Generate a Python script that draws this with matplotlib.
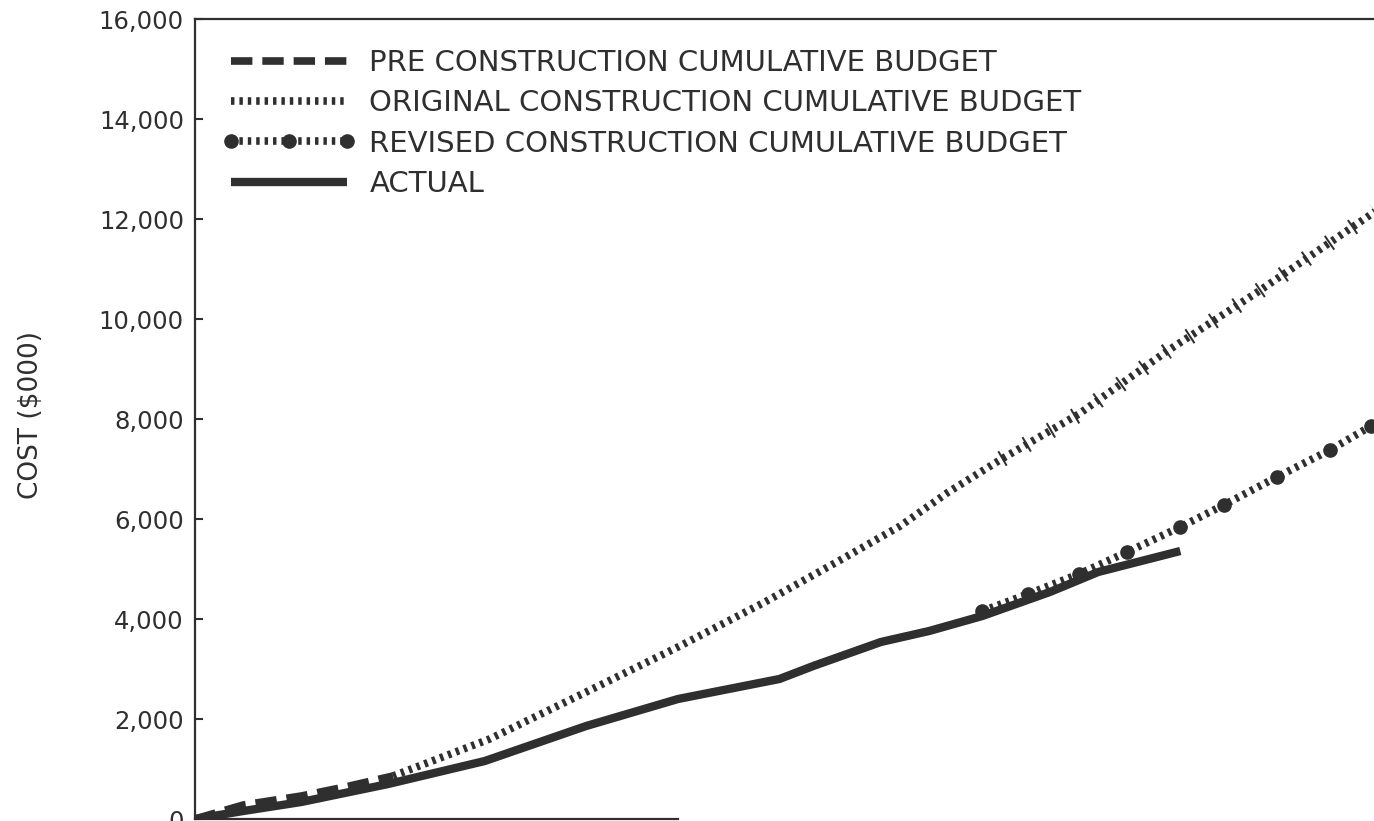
import matplotlib.pyplot as plt
from matplotlib.ticker import StrMethodFormatter

# months from start of project (x) and cumulative cost in $000 (y)
pre_x = [0, 1.0, 2.2, 3.2, 4.1]
pre_y = [0, 280, 460, 660, 860]

orig_x = [4.1, 6.1, 8.1, 10.0, 11.8, 13.4, 14.6, 15.6, 16.7, 18.3, 20.1, 22.0, 24.3, 25.4]
orig_y = [860, 1600, 2540, 3440, 4340, 5200, 5860, 6540, 7200, 8100, 9340, 10540, 12060, 12800]

rev_x = [16.3, 17.25, 18.3, 19.3, 20.4, 21.3, 22.4, 23.5, 24.35, 25.3]
rev_y = [4160, 4500, 4900, 5340, 5840, 6280, 6840, 7380, 7860, 8400]

actual_x = [0, 1.0, 2.2, 4.0, 6.0, 8.1, 10.0, 12.1, 12.8, 14.2, 15.2, 16.3, 17.7, 18.7, 20.4]
actual_y = [0, 160, 340, 700, 1160, 1860, 2400, 2800, 3060, 3540, 3760, 4060, 4540, 4940, 5360]

labels = ["PRE CONSTRUCTION CUMULATIVE BUDGET",
          "ORIGINAL CONSTRUCTION CUMULATIVE BUDGET",
          "REVISED CONSTRUCTION CUMULATIVE BUDGET",
          "ACTUAL"]

ink = '#2f2f2f'
plt.rcParams['font.family'] = ['DejaVu Sans']

fig = plt.figure(figsize=(13.74, 8.21), dpi=100)
W, H = 1374, 821
ax = fig.add_axes([195 / W, (H - 819) / H, (W - 195) / W, 800 / H])

l_pre, = ax.plot(pre_x, pre_y, color=ink, lw=5.5, dashes=(2.8, 1.3),
                 solid_capstyle='butt', dash_capstyle='butt')
l_orig, = ax.plot(orig_x, orig_y, color=ink, lw=5.5, dashes=(0.45, 0.65),
                  dash_capstyle='butt')
# hand drawn cross strokes on the later part of the original budget
ax.plot(orig_x[8:], orig_y[8:], color=ink, lw=12, dashes=(0.12, 1.56),
        dash_capstyle='butt')
l_rev, = ax.plot(rev_x, rev_y, color=ink, lw=5.5, dashes=(0.45, 0.65),
                 dash_capstyle='butt', marker='o', markersize=9.5)
l_act, = ax.plot(actual_x, actual_y, color=ink, lw=6, solid_capstyle='butt')

ax.set_xlim(0, (W - 195) / 48.3)
ax.set_ylim(0, 16000)
ax.set_yticks(range(0, 16001, 2000))
ax.yaxis.set_major_formatter(StrMethodFormatter('{x:,.0f}'))
ax.set_xticks([])
ax.tick_params(axis='y', direction='in', length=6, width=1.5, pad=8,
               labelsize=17.5, colors=ink)

for s in ['left', 'top', 'bottom']:
    ax.spines[s].set_linewidth(1.6)
    ax.spines[s].set_color(ink)
ax.spines['right'].set_visible(False)
ax.spines['bottom'].set_bounds(0, 10)

ax.set_ylabel("COST ($000)", fontsize=19, color=ink)
ax.yaxis.set_label_coords(-0.128, 0.505)

ax.legend([l_pre, l_orig, l_rev, l_act], labels, loc='upper left',
          bbox_to_anchor=(222 / W, 1 - 49 / H), bbox_transform=fig.transFigure,
          frameon=False, fontsize=21, handlelength=4.6, handletextpad=0.45,
          labelspacing=0.42, borderpad=0, borderaxespad=0, numpoints=3,
          labelcolor=ink)

fig.savefig('out.png', dpi=100)
